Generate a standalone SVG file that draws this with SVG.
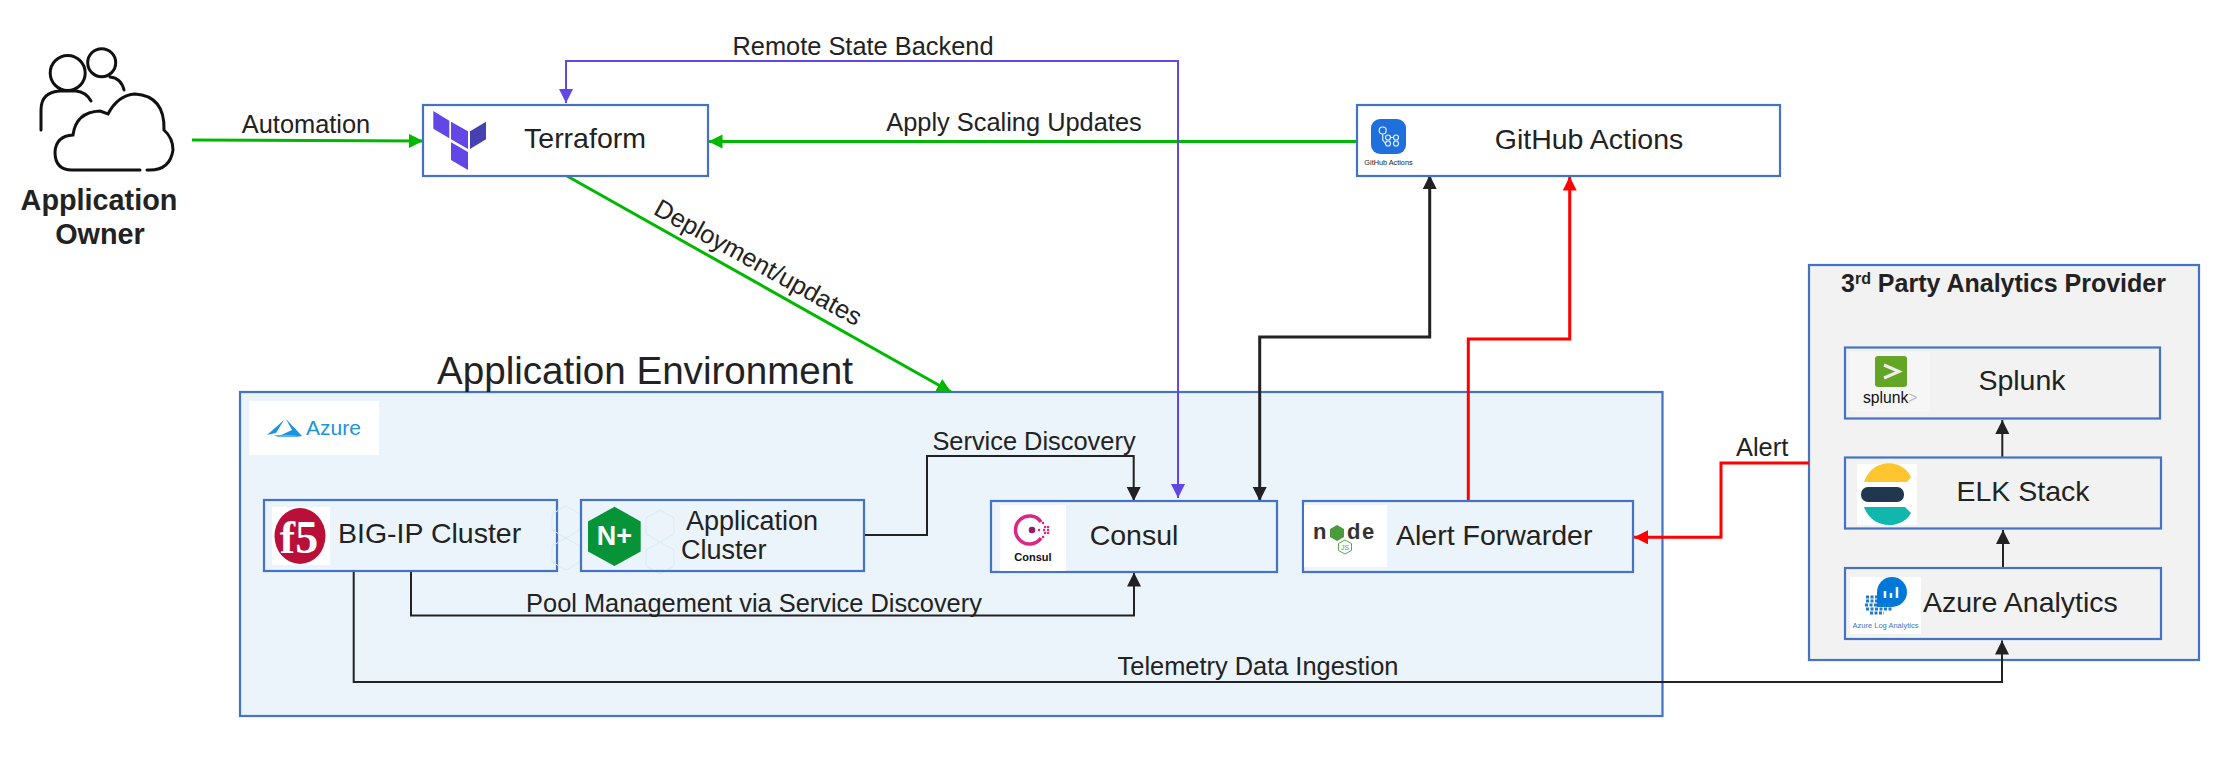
<svg xmlns="http://www.w3.org/2000/svg" width="2224" height="762" viewBox="0 0 2224 762">
<style>
text{font-family:"Liberation Sans",Arial,sans-serif;fill:#222;font-size:28.5px}
.e{font-size:25.4px}
.m{text-anchor:middle}
.b{font-weight:bold}
.box{fill:none;stroke:#4472c4;stroke-width:2.200}
.c{fill:none;stroke-width:2}
.g{stroke:#00b800;stroke-width:3}
.k{stroke:#222}
.r{stroke:#f00;stroke-width:3}
.p{stroke:#6347e6}
.w{fill:#fff}
.ic{fill:none;stroke:#111;stroke-width:3;stroke-linecap:round}
.hx{fill:none;stroke:#d9ebef;stroke-width:1}
.gh{fill:none;stroke:#e4f0ff;stroke-width:1.200}
</style>
<defs>
<marker id="ag" markerUnits="userSpaceOnUse" markerWidth="16" markerHeight="16" refX="14" refY="7" orient="auto-start-reverse"><path d="M0 0L14 7L0 14z" fill="#00b800"/></marker>
<marker id="ak" markerUnits="userSpaceOnUse" markerWidth="16" markerHeight="16" refX="14" refY="7" orient="auto-start-reverse"><path d="M0 0L14 7L0 14z" fill="#222"/></marker>
<marker id="ar" markerUnits="userSpaceOnUse" markerWidth="16" markerHeight="16" refX="14" refY="7" orient="auto-start-reverse"><path d="M0 0L14 7L0 14z" fill="#f00"/></marker>
<marker id="ap" markerUnits="userSpaceOnUse" markerWidth="16" markerHeight="16" refX="14" refY="7" orient="auto-start-reverse"><path d="M0 0L14 7L0 14z" fill="#6347e6"/></marker>
</defs>
<rect width="2224" height="762" fill="#fff"/>

<g id="env"><rect x="240" y="392" width="1422.500" height="324" fill="#ebf3fb" stroke="#4472c4" stroke-width="2.200"/>
<text x="645" y="384" class="m" style="font-size:38.6px">Application Environment</text>
<rect x="249" y="401" width="130" height="54" class="w"/>
<path d="M267 435L284 420L276 433zM286 419L302 436H279L292 430z" fill="#1d94dc"/><path d="M274 435H293L302 437H278z" fill="#5ab4e6"/>
<text x="306" y="435" style="font-size:21px;fill:#1d94dc">Azure</text></g>

<g id="provider"><rect x="1809" y="265" width="390" height="395" fill="#f2f2f2" stroke="#4472c4" stroke-width="2.200"/>
<text x="1841" y="292" class="b" style="font-size:25px">3<tspan dy="-8" style="font-size:16px">rd</tspan><tspan dy="8"> Party Analytics Provider</tspan></text></g>

<g id="connectors">
<path class="c g" marker-end="url(#ag)" d="M192 140L423 141"/>
<path class="c g" marker-end="url(#ag)" d="M1357 141.500H708.500"/>
<path class="c g" marker-end="url(#ag)" d="M567 176L951 392"/>
<path class="c p" marker-start="url(#ap)" marker-end="url(#ap)" d="M566 103V61H1178V498"/>
<path class="c k" style="stroke-width:3" marker-start="url(#ak)" marker-end="url(#ak)" d="M1429.700 175V337H1259.700V501"/>
<path class="c r" marker-end="url(#ar)" d="M1468.300 501V339H1569.700V176.500"/>
<path class="c k" marker-end="url(#ak)" d="M864 535H927V456H1133.700V501"/>
<path class="c k" marker-end="url(#ak)" d="M411 571V615.500H1134V572.500"/>
<path class="c k" marker-end="url(#ak)" d="M353.700 571V682H2002V640.500"/>
<path class="c r" marker-end="url(#ar)" d="M1809 463H1721V537.300H1634"/>
<path class="c k" marker-end="url(#ak)" d="M2002.300 457V420"/>
<path class="c k" marker-end="url(#ak)" d="M2003 568V530"/>
</g>

<g id="labels">
<text x="306" y="133" class="m e">Automation</text>
<text x="1014" y="131" class="m e">Apply Scaling Updates</text>
<text x="863" y="55" class="m e">Remote State Backend</text>
<text x="0" y="0" class="m e" transform="translate(754 270) rotate(29)">Deployment/updates</text>
<text x="1034" y="450" class="m e">Service Discovery</text>
<text x="754" y="612" class="m e">Pool Management via Service Discovery</text>
<text x="1258" y="675" class="m e">Telemetry Data Ingestion</text>
<text x="1736" y="456" class="e">Alert</text>
</g>

<g id="owner">
<circle cx="67.700" cy="73" r="17.500" class="ic"/><circle cx="101.700" cy="62.700" r="14" class="ic"/>
<path class="ic" d="M41 130V110Q41 92 60 91H76Q86 92 91 101M110 77Q121 78 124 90"/>
<path class="ic" d="M140 170H72Q55 170 55 152Q56 136 73 135Q76 112 100 111L108 114Q118 95 135 94Q165 96 164 130Q173 138 173 150Q170 170 150 170H147"/>
<text x="99" y="210" class="m b" style="font-size:28.8px">Application</text>
<text x="100" y="244" class="m b" style="font-size:28.8px">Owner</text>
</g>

<g id="terraform"><rect x="423" y="105" width="285" height="71" class="box" style="fill:#fff"/>
<path d="M433.300 111L449.300 120.700V138.300L433.300 128.700zM451 121.700L468 131.300V149L451 139.300zM451 142.300L468 152V170L451 160z" fill="#6347e6"/><path d="M470 131.300L486 121.700V139.300L470 149z" fill="#4640b0"/>
<text x="585" y="148" class="m">Terraform</text></g>

<g id="github"><rect x="1357" y="105" width="423" height="71" class="box" style="fill:#fff"/>
<rect x="1371" y="119" width="35" height="35" rx="9" fill="#1f6fdc"/>
<circle cx="1382.700" cy="130.500" r="3.500" class="gh"/><circle cx="1388" cy="137.500" r="2.500" class="gh"/><circle cx="1396" cy="137.500" r="2.500" class="gh"/><circle cx="1388" cy="143.500" r="2.500" class="gh"/><circle cx="1396" cy="143.500" r="2.500" class="gh"/><path class="gh" d="M1382.700 134V140L1385.500 143.500M1390.500 137.500H1393.500"/>
<text x="1388.500" y="165" class="m" style="font-size:7.300px">GitHub Actions</text>
<text x="1589" y="149" class="m">GitHub Actions</text></g>

<g id="bigip"><rect x="264" y="500" width="293" height="71" class="box"/>
<rect x="272" y="507" width="58" height="58" class="w"/><ellipse cx="300" cy="536" rx="25.500" ry="28" fill="#b9103a"/>
<text x="299" y="553" class="m" style="font-family:'Liberation Serif',serif;font-size:46px;font-weight:bold;fill:#fff">f5</text>
<text x="338" y="543">BIG-IP Cluster</text></g>

<g id="appcluster">
<path class="hx" d="M566 506l14 8v16l-14 8l-14-8v-16zM660 510l14 8v16l-14 8l-14-8v-16zM660 542l14 8v16l-14 8l-14-8v-16zM566 538l14 8v16l-14 8l-14-8v-16z"/>
<rect x="581" y="500" width="283" height="71" class="box"/>
<path d="M614.500 506.700L640.700 521.500V551.500L614.500 566L588 551.500V521.500z" fill="#079438"/>
<text x="614.500" y="545" class="m b" style="font-size:27px;fill:#fff">N+</text>
<text x="686" y="530" style="font-size:27px">Application</text><text x="681" y="559" style="font-size:27px">Cluster</text></g>

<g id="consul"><rect x="991" y="501" width="286" height="71" class="box"/>
<rect x="1000" y="505" width="66" height="66" class="w"/>
<path d="M1041 522A14 14 0 1 0 1041 538" fill="none" stroke="#dc2586" stroke-width="3.500"/><circle cx="1032" cy="530" r="3.300" fill="#9a1a66"/>
<path d="M1039 530h.1M1043 523h.1M1045 527h.1M1048 527h.1M1044 530h.1M1048 530h.1M1045 533h.1M1048 533h.1M1043 537h.1" stroke="#dc2586" stroke-width="2.400" stroke-linecap="round" fill="none"/>
<text x="1033" y="561" class="m b" style="font-size:11px;fill:#111">Consul</text>
<text x="1134" y="545" class="m">Consul</text></g>

<g id="alert"><rect x="1303" y="501" width="330" height="71" class="box"/>
<rect x="1304" y="505" width="83" height="62" class="w"/>
<text x="1313 1330 1347 1362" y="539" class="b" style="font-size:22px;fill:#333">node</text>
<path d="M1337 525l7 4v8l-7 4-7-4v-8z" fill="#4a9c3a"/><path d="M1345 540l6.500 3.500v7l-6.500 3.500-6.500-3.500v-7z" fill="#fff" stroke="#5aa84a"/>
<text x="1345" y="550" class="m" style="font-size:7px;fill:#5aa84a">JS</text>
<text x="1396" y="545">Alert Forwarder</text></g>

<g id="splunk"><rect x="1845" y="347.500" width="315" height="71" class="box"/>
<rect x="1850" y="352" width="80" height="59" fill="#f6f6f6"/>
<rect x="1875" y="356" width="32" height="31" rx="3" fill="#65a526"/><path d="M1884 365L1899 371.500L1884 378" fill="none" stroke="#eee" stroke-width="3"/>
<text x="1863" y="403" style="font-size:15.700px;fill:#111">splunk<tspan style="fill:#bbb">&gt;</tspan></text>
<text x="2022" y="390" class="m">Splunk</text></g>

<g id="elk"><rect x="1845" y="457.500" width="316" height="71" class="box"/>
<rect x="1857" y="464" width="60" height="61" class="w"/>
<path d="M1864 482C1872 458 1902 458 1911 477L1907 482z" fill="#fec52e"/><rect x="1861" y="487" width="43" height="15" rx="7" fill="#20374f"/><path d="M1864 507C1872 530 1902 530 1911 513L1905 507z" fill="#11b6ac"/>
<text x="2023" y="500.500" class="m">ELK Stack</text></g>

<g id="analytics"><rect x="1845" y="568" width="316" height="71" class="box"/>
<rect x="1850" y="577" width="71" height="57" class="w"/>
<path d="M1877 592a15 15 0 1 1 15 15H1877z" fill="#0078d7"/>
<path d="M1885 598v-7m6 7v-5m6 5v-11" stroke="#fff" stroke-width="2.500"/>
<path d="M1866 597h11m-11 4h11m-12 4h28m-27 4h26m-22 4h14" stroke="#1f78d1" stroke-width="3" stroke-dasharray="3 1.500"/>
<text x="1885.500" y="628" class="m" style="font-size:7.500px;fill:#4472c4">Azure Log Analytics</text>
<text x="1923" y="611.500">Azure Analytics</text></g>
</svg>
